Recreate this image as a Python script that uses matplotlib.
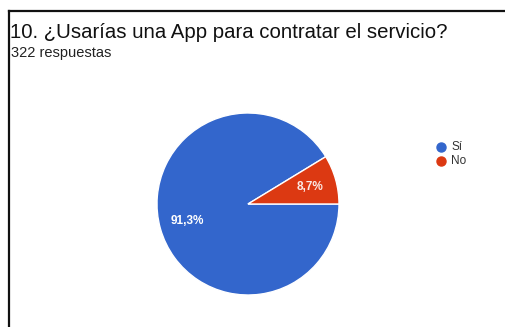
import matplotlib.pyplot as plt
from matplotlib.lines import Line2D

labels = ["Sí", "No"]
shares = [91.3, 8.7]
colors = ["#3366cc", "#dc3912"]
title = "10. ¿Usarías una App para contratar el servicio?"
subtitle = "322 respuestas"

W, H = 505, 327
fig = plt.figure(figsize=(W / 100, H / 100), dpi=100)
fig.patch.set_facecolor("white")

# frame lines (top and left only)
fig.add_artist(Line2D([8.5 / W, 1], [1 - 10.5 / H, 1 - 10.5 / H], color="#111111", lw=1.6))
fig.add_artist(Line2D([8.5 / W, 8.5 / W], [0, 1 - 10.5 / H], color="#111111", lw=1.6))

fig.text(10 / W, 1 - 33 / H, title, fontsize=14.7, va="center", ha="left",
         family="Liberation Sans", color="#111111")
fig.text(11 / W, 1 - 53 / H, subtitle, fontsize=10.5, va="center", ha="left",
         family="Liberation Sans", color="#222222")

cx, cy, r = 248, 204, 91
ax = fig.add_axes([(cx - r) / W, 1 - (cy + r) / H, 2 * r / W, 2 * r / H])
wedges, _ = ax.pie(shares, colors=colors, startangle=0, counterclock=False,
                   wedgeprops=dict(edgecolor="white", linewidth=1.0))
ax.set_aspect("equal")
ax.set_xlim(-1, 1)
ax.set_ylim(-1, 1)

def fmt(v):
    return f"{v:.1f}%".replace(".", ",")

ax.text(-0.67, -0.19, fmt(shares[0]), color="white", fontsize=8.5, fontweight="bold",
        ha="center", va="center", family="Liberation Sans")
ax.text(0.68, 0.19, fmt(shares[1]), color="#fbe9e4", fontsize=8.5, fontweight="bold",
        ha="center", va="center", family="Liberation Sans")

# legend
for i, (lab, col) in enumerate(zip(labels, colors)):
    y = 1 - (147 + 14 * i) / H
    fig.add_artist(Line2D([441 / W], [y], marker="o", markersize=6.5, color=col, lw=0))
    fig.text(451 / W, y, lab, fontsize=8.5, va="center", ha="left",
             family="Liberation Sans", color="#333333")

fig.savefig("out.png", dpi=100)
